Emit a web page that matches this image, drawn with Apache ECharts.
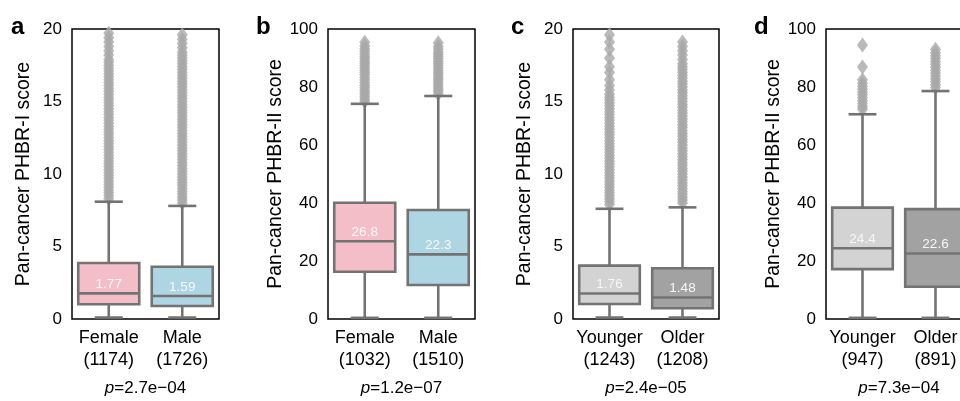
<!DOCTYPE html>
<html>
<head>
<meta charset="utf-8">
<script src="https://cdn.jsdelivr.net/npm/echarts@6/dist/echarts.min.js"></script>
<style>
html,body{margin:0;padding:0;background:#fff;overflow:hidden;}
#chart{width:980px;height:401px;}
</style>
</head>
<body>
<div id="chart"></div>
<script>
// ---------- data ----------
const panelLetters = ['a', 'b', 'c', 'd'];
const yNames = ['Pan-cancer PHBR-I score', 'Pan-cancer PHBR-II score', 'Pan-cancer PHBR-I score', 'Pan-cancer PHBR-II score'];
const yMax = [20, 100, 20, 100];
const yInterval = [5, 20, 5, 20];

const groupsSex = ['Female', 'Male'];
const groupsAge = ['Younger', 'Older'];
const countsA = [1174, 1726];
const countsB = [1032, 1510];
const countsC = [1243, 1208];
const countsD = [947, 891];
const pValues = ['2.7e\u221204', '1.2e\u221207', '2.4e\u221205', '7.3e\u221204'];

// box stats: [lower whisker, Q1, median, Q3, upper whisker]
const boxA = [[0.1, 1.02, 1.77, 3.86, 8.09], [0.1, 0.9, 1.59, 3.6, 7.8]];
const boxB = [[0.4, 16.3, 26.8, 40.1, 74.2], [0.4, 11.7, 22.3, 37.6, 76.9]];
const boxC = [[0.1, 1.03, 1.76, 3.68, 7.6], [0.1, 0.74, 1.48, 3.5, 7.7]];
const boxD = [[0.4, 17.2, 24.4, 38.4, 70.6], [0.4, 11.1, 22.6, 37.9, 78.6]];

// outliers (fliers) per group
const fliersA0 = [8.3, 8.5, 8.7, 8.9, 9.1, 9.3, 9.5, 9.7, 9.9, 10.1, 10.3, 10.5, 10.7, 10.9, 11.1, 11.3, 11.5, 11.7, 11.9, 12.1, 12.3, 12.5, 12.7, 12.9, 13.1, 13.3, 13.5, 13.7, 13.9, 14.1, 14.3, 14.5, 14.7, 14.9, 15.1, 15.3, 15.5, 15.7, 15.9, 16.1, 16.3, 16.5, 16.7, 16.9, 17.1, 17.3, 17.5, 17.7, 17.9, 18.2, 18.5, 18.8, 19.1, 19.4, 19.7];
const fliersA1 = [8.0, 8.2, 8.4, 8.6, 8.8, 9.0, 9.2, 9.4, 9.6, 9.8, 10.0, 10.2, 10.4, 10.6, 10.8, 11.0, 11.2, 11.4, 11.6, 11.8, 12.0, 12.2, 12.4, 12.6, 12.8, 13.0, 13.2, 13.4, 13.6, 13.8, 14.0, 14.2, 14.4, 14.6, 14.8, 15.0, 15.2, 15.4, 15.6, 15.8, 16.0, 16.2, 16.4, 16.6, 16.8, 17.0, 17.2, 17.4, 17.6, 17.8, 18.0, 18.2, 18.4, 18.7, 19.0, 19.3, 19.6];
const fliersB0 = [75.0, 75.8, 76.6, 77.4, 78.2, 79.0, 79.8, 80.6, 81.5, 82.4, 83.3, 84.2, 85.0, 85.8, 86.6, 87.4, 88.2, 89.0, 89.8, 90.6, 91.5, 92.4, 93.3, 94.2, 95.4];
const fliersB1 = [77.7, 78.5, 79.3, 80.1, 80.9, 81.7, 82.5, 83.3, 84.1, 84.9, 85.7, 86.5, 87.3, 88.1, 88.9, 89.7, 90.5, 91.3, 92.1, 93.0, 94.0, 95.3];
const fliersC0 = [7.9, 8.1, 8.3, 8.5, 8.7, 8.9, 9.1, 9.3, 9.5, 9.7, 9.9, 10.1, 10.3, 10.5, 10.7, 10.9, 11.1, 11.3, 11.5, 11.7, 11.9, 12.1, 12.3, 12.5, 12.7, 12.9, 13.1, 13.3, 13.5, 13.7, 13.9, 14.1, 14.3, 14.5, 14.7, 14.9, 15.1, 15.3, 15.5, 15.8, 16.1, 16.5, 17.0, 17.4, 18.0, 18.6, 19.1, 19.6];
const fliersC1 = [8.0, 8.2, 8.4, 8.6, 8.8, 9.0, 9.2, 9.4, 9.6, 9.8, 10.0, 10.2, 10.4, 10.6, 10.8, 11.0, 11.2, 11.4, 11.6, 11.8, 12.0, 12.2, 12.4, 12.6, 12.8, 13.0, 13.2, 13.4, 13.6, 13.8, 14.0, 14.2, 14.4, 14.6, 14.8, 15.0, 15.2, 15.4, 15.6, 15.8, 16.0, 16.2, 16.4, 16.6, 16.8, 17.0, 17.2, 17.4, 17.6, 17.9, 18.2, 18.5, 18.8, 19.1];
const fliersD0 = [72.3, 73.3, 74.3, 75.3, 76.3, 77.3, 78.3, 79.3, 80.3, 81.3, 82.5, 86.9, 94.5];
const fliersD1 = [79.8, 80.8, 81.8, 82.8, 83.8, 84.8, 85.8, 86.8, 87.8, 88.8, 89.8, 90.8, 91.8, 93.0];

// ---------- styles ----------
const FONT = "'Liberation Sans', Arial, Helvetica, sans-serif";
const boxColors = [
  ['#f4bec8', '#aed5e2'],
  ['#f4bec8', '#aed5e2'],
  ['#d3d3d3', '#a2a2a2'],
  ['#d3d3d3', '#a2a2a2']
];
const lineColor = '#737373';
const flierColor = '#a9a9a9';
const gridLefts = [72, 328, 573, 826];
const gridWidths = [147, 147, 146, 146];

const panels = [
  {groups: groupsSex, counts: countsA, box: boxA, fliers: [fliersA0, fliersA1]},
  {groups: groupsSex, counts: countsB, box: boxB, fliers: [fliersB0, fliersB1]},
  {groups: groupsAge, counts: countsC, box: boxC, fliers: [fliersC0, fliersC1]},
  {groups: groupsAge, counts: countsD, box: boxD, fliers: [fliersD0, fliersD1]}
];

function makeRender(colors) {
  return function (params, api) {
    const x = api.value(0);
    const lo = api.coord([x, api.value(1)]);
    const q1 = api.coord([x, api.value(2)]);
    const md = api.coord([x, api.value(3)]);
    const q3 = api.coord([x, api.value(4)]);
    const hi = api.coord([x, api.value(5)]);
    const band = api.size([1, 0])[0];
    const bw = band * 0.83;
    const cw = bw * 0.46;
    const cx = lo[0];
    const ls = {stroke: lineColor, lineWidth: 2.6};
    return {
      type: 'group',
      children: [
        {type: 'line', shape: {x1: cx, y1: lo[1], x2: cx, y2: q1[1]}, style: ls},
        {type: 'line', shape: {x1: cx, y1: q3[1], x2: cx, y2: hi[1]}, style: ls},
        {type: 'line', shape: {x1: cx - cw / 2, y1: lo[1], x2: cx + cw / 2, y2: lo[1]}, style: ls},
        {type: 'line', shape: {x1: cx - cw / 2, y1: hi[1], x2: cx + cw / 2, y2: hi[1]}, style: ls},
        {type: 'rect', shape: {x: cx - bw / 2, y: q3[1], width: bw, height: q1[1] - q3[1]},
          style: {fill: colors[params.dataIndex], stroke: lineColor, lineWidth: 2.6}},
        {type: 'line', shape: {x1: cx - bw / 2, y1: md[1], x2: cx + bw / 2, y2: md[1]}, style: ls},
        {type: 'text', style: {text: String(api.value(3)), x: cx, y: md[1] - 9, align: 'center',
          verticalAlign: 'middle', fill: '#f7f7f7', fontSize: 13.5, fontFamily: FONT}}
      ]
    };
  };
}

const option = {
  animation: false,
  backgroundColor: '#fff',
  textStyle: {fontFamily: FONT},
  title: panelLetters.map((t, i) => ({
    text: t,
    left: [11, 256, 511, 754][i],
    top: 15,
    padding: 0,
    textStyle: {fontSize: 24, fontWeight: 'bold', color: '#000', fontFamily: FONT}
  })),
  grid: panels.map((p, i) => ({
    left: gridLefts[i], width: gridWidths[i], top: 29, height: 290,
    outerBoundsMode: 'none', containLabel: false,
    show: true, borderColor: '#000', borderWidth: 1.5, backgroundColor: 'transparent'
  })),
  xAxis: panels.map((p, i) => ({
    type: 'category',
    gridIndex: i,
    data: p.groups.map((g, k) => g + '\n(' + p.counts[k] + ')'),
    axisLine: {show: false},
    axisTick: {show: false},
    splitLine: {show: false},
    axisLabel: {interval: 0, fontSize: 18, lineHeight: 22, margin: 8, color: '#000', fontFamily: FONT},
    name: '{i|p}=' + pValues[i],
    nameLocation: 'middle',
    nameGap: 61,
    nameTextStyle: {fontSize: 17, color: '#000', fontFamily: FONT,
      rich: {i: {fontStyle: 'italic', fontSize: 17, color: '#000', fontFamily: FONT}}}
  })),
  yAxis: panels.map((p, i) => ({
    type: 'value',
    gridIndex: i,
    min: 0, max: yMax[i], interval: yInterval[i],
    axisLine: {show: false},
    axisTick: {show: false},
    splitLine: {show: false},
    axisLabel: {fontSize: 17, margin: 10, color: '#000', fontFamily: FONT},
    name: yNames[i],
    nameLocation: 'middle',
    nameGap: 38,
    nameTextStyle: {fontSize: 19.5, color: '#000', fontFamily: FONT}
  })),
  series: []
};

panels.forEach((p, i) => {
  const flierData = [];
  p.fliers.forEach((arr, k) => arr.forEach(v => flierData.push([k, v])));
  option.series.push({
    type: 'scatter',
    xAxisIndex: i, yAxisIndex: i,
    data: flierData,
    symbol: 'diamond',
    symbolSize: [11, 15],
    itemStyle: {color: flierColor},
    z: 1,
    silent: true
  });
  option.series.push({
    type: 'custom',
    xAxisIndex: i, yAxisIndex: i,
    data: p.box.map((b, k) => [k].concat(b)),
    renderItem: makeRender(boxColors[i]),
    encode: {x: 0, y: [1, 2, 3, 4, 5]},
    z: 2,
    silent: true
  });
});

const chart = echarts.init(document.getElementById('chart'), null, {renderer: 'canvas'});
chart.setOption(option);
</script>
</body>
</html>
